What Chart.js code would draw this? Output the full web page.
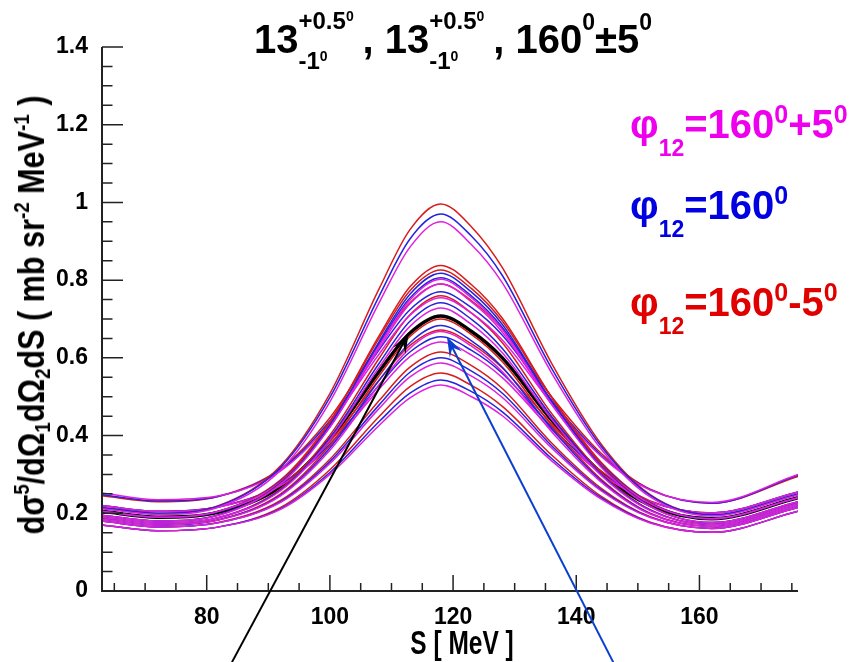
<!DOCTYPE html>
<html>
<head>
<meta charset="utf-8">
<script src="https://cdn.jsdelivr.net/npm/chart.js@4/dist/chart.umd.min.js"></script>
<style>
  body { margin: 0; background: #fff; }
  #wrap { position: relative; width: 859px; height: 662px; overflow: hidden; }
  #wrap canvas { position: absolute; left: 0; top: 0; }
  .txt { position: absolute; white-space: nowrap; font-family: 'Liberation Sans', Arial, sans-serif; font-weight: bold; color: #000; }
  .txt span { line-height: 0; }
  #title { left: 254px; top: 20px; font-size: 40px; line-height: 39px; }
  #title .st { display: inline-block; position: relative; height: 1px; }
  #title .st .u, #title .st .d { position: absolute; left: 0; font-size: 24px; line-height: 0; }
  #title .st .u { top: -31px; }
  #title .st .d { top: 9px; }
  #title .t { font-size: 14px; position: relative; top: -8px; }
  #title .p { font-size: 23px; position: relative; top: -23px; }
  .lg { left: 630px; font-size: 40px; line-height: 42px; }
  .lg .s { font-size: 23px; position: relative; top: 18px; }
  .lg .p { font-size: 25px; position: relative; top: -15px; }
  #ytitle { left: 32px; top: 315px; font-size: 36px; line-height: 40px; transform: translate(-50%, -50%) rotate(-90deg) scaleX(0.85); }
  #ytitle .p { font-size: 22px; position: relative; top: -15px; }
  #ytitle .s { font-size: 22px; position: relative; top: 6px; }
  #xtitle { left: 462px; top: 627px; font-size: 34px; line-height: 30px; transform: translateX(-50%) scaleX(0.72); }
</style>
</head>
<body>
<div id="wrap">
  <canvas id="chartS" width="859" height="662"></canvas>
  <div class="txt" id="title">13<span class="st" style="width:64px"><span class="u">+0.5<span class="t">0</span></span><span class="d">-1<span class="t">0</span></span></span>, 13<span class="st" style="width:64px"><span class="u">+0.5<span class="t">0</span></span><span class="d">-1<span class="t">0</span></span></span>, 160<span class="p">0</span>±5<span class="p">0</span></div>
  <div class="txt lg" style="top:103px;color:#ee00ee">φ<span class="s">12</span>=160<span class="p">0</span>+5<span class="p">0</span></div>
  <div class="txt lg" style="top:184px;color:#0000e0">φ<span class="s">12</span>=160<span class="p">0</span></div>
  <div class="txt lg" style="top:281px;color:#e00000">φ<span class="s">12</span>=160<span class="p">0</span>-5<span class="p">0</span></div>
  <div class="txt" id="ytitle">dσ<span class="p">5</span>/dΩ<span class="s">1</span>dΩ<span class="s">2</span>dS ( mb sr<span class="p">-2</span> MeV<span class="p">-1</span> )</div>
  <div class="txt" id="xtitle">S [ MeV ]</div>
</div>
<script>
var sValues = [63, 72, 82, 92, 100, 108, 113, 118, 123, 128, 136, 144, 152, 162, 176];

// phi12 = 160+5 (magenta), 160 (blue), 160-5 (red), nine theta combinations
var red1  = [.215, .200, .220, .322, .508, .778, .930, .996, .937, .832, .586, .379, .248, .196, .250];
var blue1 = [.215, .200, .219, .318, .498, .759, .906, .970, .913, .812, .573, .373, .246, .196, .250];
var mag1  = [.212, .197, .216, .311, .487, .742, .885, .950, .891, .793, .561, .366, .242, .193, .247];

var red2  = [.195, .180, .196, .280, .435, .657, .783, .838, .788, .702, .499, .327, .219, .176, .230];
var blue2 = [.195, .180, .196, .277, .427, .642, .764, .818, .769, .686, .489, .322, .218, .176, .230];
var mag2  = [.195, .180, .195, .275, .421, .631, .749, .802, .754, .673, .481, .319, .217, .176, .230];

var red3  = [.205, .190, .206, .286, .436, .651, .773, .826, .778, .694, .498, .332, .228, .186, .240];
var blue3 = [.205, .190, .205, .283, .428, .637, .754, .806, .759, .678, .488, .328, .226, .186, .240];
var mag3  = [.205, .190, .205, .281, .422, .625, .739, .790, .744, .666, .480, .324, .225, .186, .240];

var red4  = [.245, .230, .244, .315, .446, .636, .742, .790, .747, .674, .500, .355, .262, .226, .295];
var blue4 = [.248, .232, .244, .312, .438, .621, .724, .770, .729, .658, .490, .350, .261, .226, .298];
var mag4  = [.252, .235, .245, .309, .432, .610, .710, .755, .715, .646, .483, .347, .260, .228, .300];

var red5  = [.190, .175, .189, .263, .401, .599, .711, .760, .715, .639, .457, .305, .209, .171, .225];
var blue5 = [.190, .175, .189, .260, .394, .586, .694, .742, .699, .624, .449, .301, .208, .171, .225];
var mag5  = [.190, .175, .189, .258, .389, .576, .681, .728, .686, .613, .442, .298, .207, .171, .225];

var red6  = [.185, .170, .184, .250, .375, .554, .655, .700, .660, .590, .426, .288, .200, .166, .220];
var blue6 = [.185, .170, .183, .247, .368, .542, .639, .683, .644, .576, .418, .284, .199, .166, .220];
var mag6  = [.185, .170, .183, .245, .362, .531, .625, .668, .630, .564, .410, .281, .198, .166, .220];

var red7  = [.220, .205, .217, .275, .385, .543, .632, .672, .636, .574, .430, .309, .232, .201, .255];
var blue7 = [.220, .205, .217, .273, .378, .530, .615, .654, .619, .560, .422, .305, .230, .201, .255];
var mag7  = [.220, .205, .216, .271, .373, .520, .603, .641, .607, .549, .415, .302, .230, .201, .255];

var red8  = [.180, .165, .177, .233, .339, .490, .576, .615, .580, .521, .381, .265, .191, .161, .215];
var blue8 = [.180, .165, .176, .230, .333, .479, .563, .600, .566, .509, .374, .261, .190, .161, .215];
var mag8  = [.180, .165, .176, .228, .328, .470, .551, .587, .553, .498, .368, .258, .189, .161, .215];

var red9  = [.170, .155, .165, .215, .312, .449, .526, .561, .529, .475, .350, .244, .177, .151, .205];
var blue9 = [.170, .155, .165, .212, .305, .436, .509, .543, .513, .461, .341, .240, .176, .151, .205];
var mag9  = [.170, .155, .165, .210, .300, .426, .497, .530, .500, .451, .335, .237, .175, .151, .205];

// central curve (thick black)
var central = [.205, .190, .203, .268, .390, .565, .664, .708, .668, .600, .440, .305, .220, .186, .240];

// axis ticks
var xTickValues = [80, 100, 120, 140, 160];
var xTickLabels = ["80", "100", "120", "140", "160"];
var yTickValues = [0, 0.2, 0.4, 0.6, 0.8, 1.0, 1.2, 1.4];
var yTickLabels = ["0", "0.2", "0.4", "0.6", "0.8", "1", "1.2", "1.4"];

// arrows: [S tail, value tail, S tip, value tip]
var arrowBlack = [84.1, -0.183, 112.8, 0.664];
var arrowBlue = [146.0, -0.183, 119.0, 0.654];

var colRed = '#d81c1c', colBlue = '#2424dc', colMag = '#e020e0';

var groups = [
    [mag1, blue1, red1], [mag2, blue2, red2], [mag3, blue3, red3],
    [mag4, blue4, red4], [mag5, blue5, red5], [mag6, blue6, red6],
    [mag7, blue7, red7], [mag8, blue8, red8], [mag9, blue9, red9]
];

function toPoints(vals) {
    return sValues.map(function (s, i) { return { x: s, y: vals[i] }; });
}

var datasets = [];
groups.forEach(function (g) {
    [colMag, colBlue, colRed].forEach(function (c, k) {
        datasets.push({
            data: toPoints(g[k]),
            borderColor: c,
            borderWidth: 1.5,
            pointRadius: 0,
            cubicInterpolationMode: 'monotone',
            fill: false
        });
    });
});
datasets.push({
    data: toPoints(central),
    borderColor: '#000',
    borderWidth: 3.5,
    pointRadius: 0,
    cubicInterpolationMode: 'monotone',
    fill: false
});

// ROOT style axes: lines + inward ticks
var rootAxes = {
    id: 'rootAxes',
    afterDraw: function (chart) {
        var ctx = chart.ctx, xs = chart.scales.x, ys = chart.scales.y;
        var a = chart.chartArea;
        ctx.save();
        ctx.strokeStyle = '#222';
        ctx.lineWidth = 2;
        ctx.beginPath();
        ctx.moveTo(a.left, a.top);
        ctx.lineTo(a.left, a.bottom);
        ctx.lineTo(a.right, a.bottom);
        ctx.stroke();
        ctx.lineWidth = 1.5;
        ctx.beginPath();
        for (var v = 0; v <= 1.4001; v += 0.05) {
            var py = ys.getPixelForValue(v);
            var major = Math.abs(v / 0.2 - Math.round(v / 0.2)) < 1e-6;
            ctx.moveTo(a.left, py);
            ctx.lineTo(a.left + (major ? 21 : 10.5), py);
        }
        for (var s = 65; s <= 176; s += 5) {
            var px = xs.getPixelForValue(s);
            var maj = (s % 20 === 0);
            ctx.moveTo(px, a.bottom);
            ctx.lineTo(px, a.bottom - (maj ? 16 : 8));
        }
        ctx.stroke();

        // arrows
        [[arrowBlack, '#000'], [arrowBlue, '#0a3fd0']].forEach(function (ar) {
            var p = ar[0];
            var x0 = xs.getPixelForValue(p[0]), y0 = ys.getPixelForValue(p[1]);
            var x1 = xs.getPixelForValue(p[2]), y1 = ys.getPixelForValue(p[3]);
            var ang = Math.atan2(y1 - y0, x1 - x0);
            ctx.strokeStyle = ar[1];
            ctx.fillStyle = ar[1];
            ctx.lineWidth = 2;
            ctx.beginPath();
            ctx.moveTo(x0, y0);
            ctx.lineTo(x1 - 8 * Math.cos(ang), y1 - 8 * Math.sin(ang));
            ctx.stroke();
            var L = 20, W = 7;
            ctx.beginPath();
            ctx.moveTo(x1, y1);
            ctx.lineTo(x1 - L * Math.cos(ang) + W * Math.sin(ang), y1 - L * Math.sin(ang) - W * Math.cos(ang));
            ctx.lineTo(x1 - 0.6 * L * Math.cos(ang), y1 - 0.6 * L * Math.sin(ang));
            ctx.lineTo(x1 - L * Math.cos(ang) - W * Math.sin(ang), y1 - L * Math.sin(ang) + W * Math.cos(ang));
            ctx.closePath();
            ctx.fill();
        });
        ctx.restore();
    }
};

var ctxS = document.getElementById('chartS').getContext('2d');
var chart = new Chart(ctxS, {
    type: 'line',
    data: { datasets: datasets },
    options: {
        responsive: false,
        animation: false,
        layout: { padding: { top: 47, right: 61, left: 0, bottom: 0 } },
        plugins: { legend: { display: false }, tooltip: { enabled: false } },
        scales: {
            x: {
                type: 'linear',
                min: 63,
                max: 176,
                grid: { display: false },
                border: { display: false },
                afterBuildTicks: function (scale) {
                    scale.ticks = xTickValues.map(function (v) { return { value: v }; });
                },
                afterFit: function (scale) { scale.height = 71; },
                ticks: {
                    autoSkip: false,
                    maxRotation: 0,
                    padding: 5,
                    color: '#000',
                    font: { family: 'Liberation Sans', weight: 'bold', size: 23 },
                    callback: function (v) { return xTickLabels[xTickValues.indexOf(v)]; }
                }
            },
            y: {
                min: 0,
                max: 1.4,
                grid: { display: false },
                border: { display: false },
                afterBuildTicks: function (scale) {
                    scale.ticks = yTickValues.map(function (v) { return { value: v }; });
                },
                afterFit: function (scale) { scale.width = 102; },
                ticks: {
                    autoSkip: false,
                    padding: 6,
                    color: '#000',
                    font: { family: 'Liberation Sans', weight: 'bold', size: 23 },
                    callback: function (v) { return yTickLabels[yTickValues.indexOf(v)]; }
                }
            }
        }
    },
    plugins: [rootAxes]
});
</script>
</body>
</html>
